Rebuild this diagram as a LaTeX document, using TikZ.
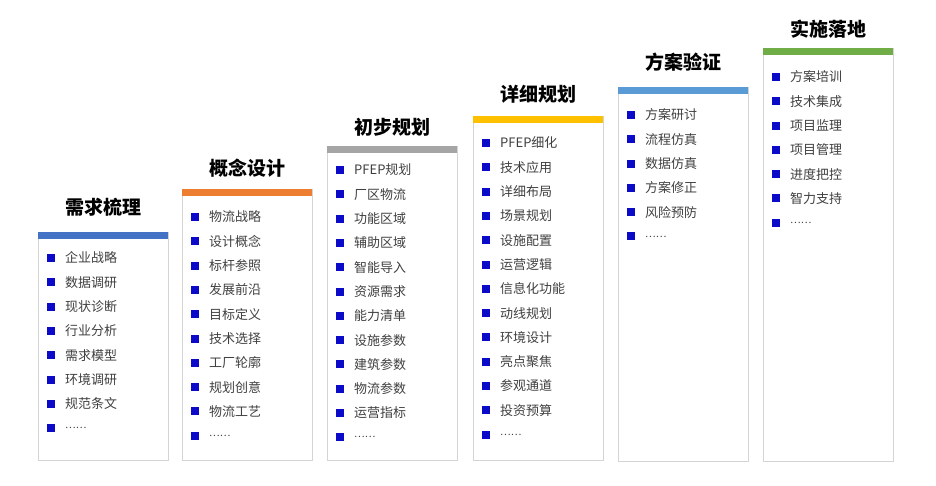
\documentclass[tikz,border=0pt]{standalone}
\usepackage{fontspec}
\setmainfont{Noto Sans CJK SC}
\definecolor{c1col}{HTML}{4472C4}
\definecolor{c2col}{HTML}{ED7D31}
\definecolor{c3col}{HTML}{A5A5A5}
\definecolor{c4col}{HTML}{FFC000}
\definecolor{c5col}{HTML}{5B9BD5}
\definecolor{c6col}{HTML}{70AD47}
\definecolor{bulcol}{HTML}{0A0AC8}
\definecolor{txtcol}{HTML}{404040}
\definecolor{boxcol}{HTML}{D4D4D4}
\newcommand\mydots{{\fontsize{10}{12}\selectfont ……}}
\tikzset{
  colbox/.style={draw=boxcol, line width=0.8pt, fill=white, minimum width=130pt, anchor=north west, inner sep=0pt, outer sep=0pt},
  colbar/.style={minimum width=130pt, minimum height=7.5pt, anchor=north west, inner sep=0pt, outer sep=0pt},
  ttl/.style={font=\fontsize{19}{22}\selectfont\bfseries, text=black, inner sep=0pt},
  itm/.style={font=\fontsize{13}{15}\selectfont, text=txtcol, anchor=west, inner sep=0pt},
  bul/.style={fill=bulcol, minimum size=8pt, inner sep=0pt}
}
% #1 name, #2 left x, #3 bar top y, #4 bottom y, #5 title y, #6 colour, #7 first item y, #8 title, #9 items
\newcommand\drawcol[9]{%
  \node[colbox, minimum height={#4-#3}] (#1) at (#2,#3) {};
  \node[colbar, fill=#6] (#1bar) at (#2,#3) {};
  \node[ttl] (#1t) at ({#2+65},#5) {#8};
  \foreach \t [count=\i] in {#9} {
    \node[bul] (#1b\i) at ({#2+13},{#7+(\i-1)*24.3}) {};
    \node[itm] (#1i\i) at ({#2+27},{#7+(\i-1)*24.3}) {\t};
  }
}
\begin{document}
\begin{tikzpicture}[x=1pt,y=-1pt]
\useasboundingbox[fill=white] (0,0) rectangle (936,486);
\drawcol{c1}{38}{232}{460}{207}{c1col}{258}{需求梳理}{企业战略,数据调研,现状诊断,行业分析,需求模型,环境调研,规范条文,\mydots}
\drawcol{c2}{182}{189}{460}{168}{c2col}{217}{概念设计}{物流战略,设计概念,标杆参照,发展前沿,目标定义,技术选择,工厂轮廓,规划创意,物流工艺,\mydots}
\drawcol{c3}{327}{146}{460}{127}{c3col}{170}{初步规划}{PFEP规划,厂区物流,功能区域,辅助区域,智能导入,资源需求,能力清单,设施参数,建筑参数,物流参数,运营指标,\mydots}
\drawcol{c4}{473}{116}{460}{94}{c4col}{143}{详细规划}{PFEP细化,技术应用,详细布局,场景规划,设施配置,运营逻辑,信息化功能,动线规划,环境设计,亮点聚焦,参观通道,投资预算,\mydots}
\drawcol{c5}{618}{87}{461}{62}{c5col}{115}{方案验证}{方案研讨,流程仿真,数据仿真,方案修正,风险预防,\mydots}
\drawcol{c6}{763}{48}{461}{29}{c6col}{77}{实施落地}{方案培训,技术集成,项目监理,项目管理,进度把控,智力支持,\mydots}
\end{tikzpicture}
\end{document}
